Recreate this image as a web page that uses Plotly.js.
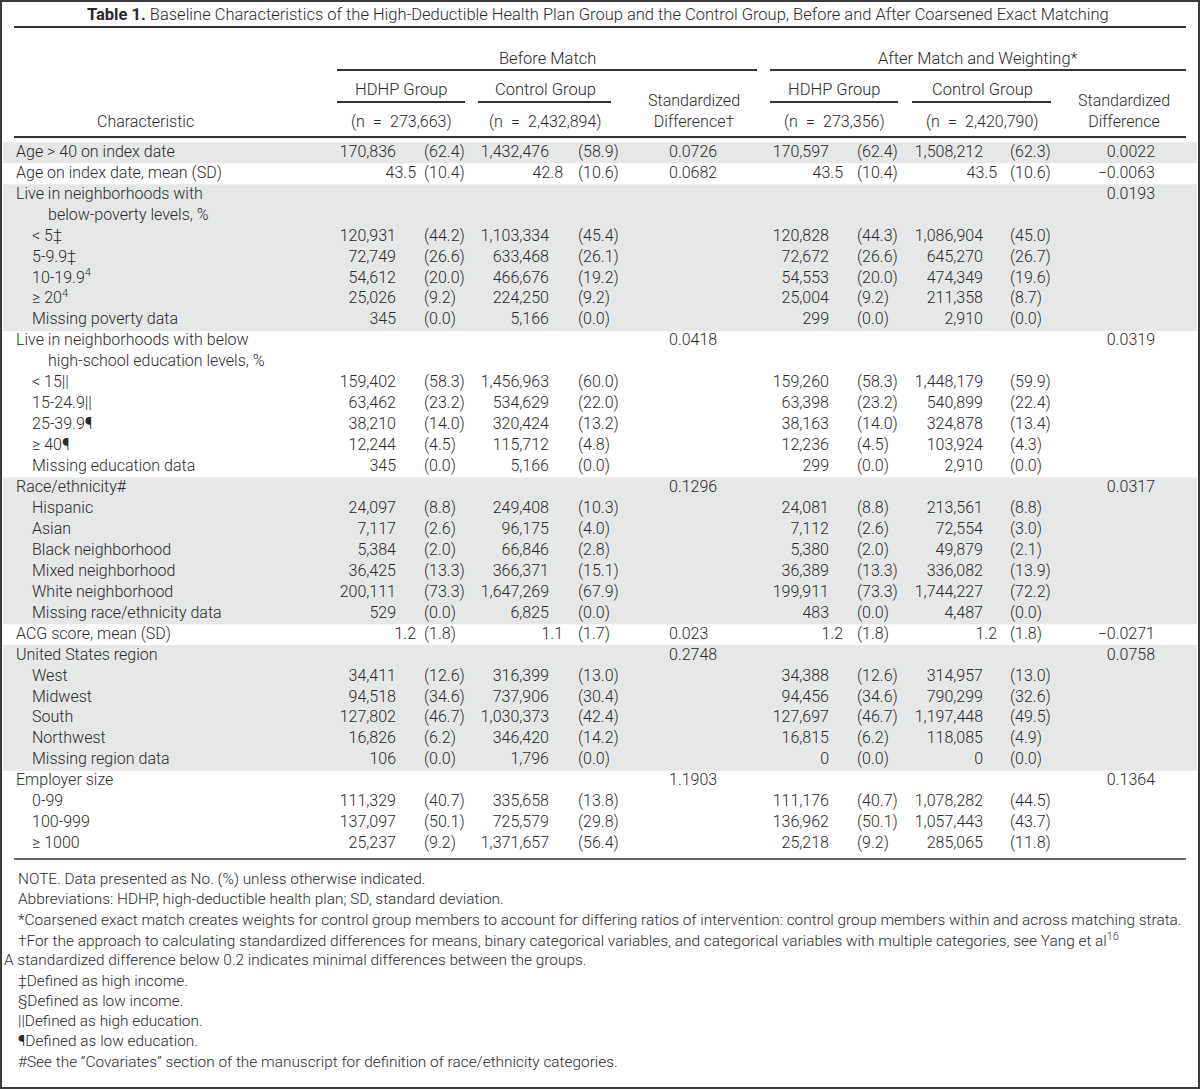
<!DOCTYPE html>
<html><head><meta charset="utf-8">
<script src="https://cdn.plot.ly/plotly-3.0.1.min.js"></script>
<style>html,body{margin:0;padding:0;background:#fff}#chart{width:1200px;height:1089px}</style>
</head><body><div id="chart"></div>
<script>
// ---------- DATA ----------
const characteristics = [
  "Age > 40 on index date",
  "Age on index date, mean (SD)",
  "Live in neighborhoods with",
  "below-poverty levels, %",
  "< 5‡",
  "5-9.9‡",
  "10-19.9<sup>4</sup>",
  "≥ 20<sup>4</sup>",
  "Missing poverty data",
  "Live in neighborhoods with below",
  "high-school education levels, %",
  "< 15||",
  "15-24.9||",
  "25-39.9¶",
  "≥ 40¶",
  "Missing education data",
  "Race/ethnicity#",
  "Hispanic",
  "Asian",
  "Black neighborhood",
  "Mixed neighborhood",
  "White neighborhood",
  "Missing race/ethnicity data",
  "ACG score, mean (SD)",
  "United States region",
  "West",
  "Midwest",
  "South",
  "Northwest",
  "Missing region data",
  "Employer size",
  "0-99",
  "100-999",
  "≥ 1000"
];
// 0 = heading, 1 = sub-category, 2 = wrapped continuation
const labelLevel = [0,0,0,2,1,1,1,1,1,0,2,1,1,1,1,1,0,1,1,1,1,1,1,0,0,1,1,1,1,1,0,1,1,1];
// rows reporting mean (SD) instead of No. (%)
const meanRows = [1, 23];

const hdhpBeforeN   = [170836,43.5,null,null,120931,72749,54612,25026,345,null,null,159402,63462,38210,12244,345,null,24097,7117,5384,36425,200111,529,1.2,null,34411,94518,127802,16826,106,null,111329,137097,25237];
const hdhpBeforePct = [62.4,10.4,null,null,44.2,26.6,20.0,9.2,0.0,null,null,58.3,23.2,14.0,4.5,0.0,null,8.8,2.6,2.0,13.3,73.3,0.0,1.8,null,12.6,34.6,46.7,6.2,0.0,null,40.7,50.1,9.2];
const ctrlBeforeN   = [1432476,42.8,null,null,1103334,633468,466676,224250,5166,null,null,1456963,534629,320424,115712,5166,null,249408,96175,66846,366371,1647269,6825,1.1,null,316399,737906,1030373,346420,1796,null,335658,725579,1371657];
const ctrlBeforePct = [58.9,10.6,null,null,45.4,26.1,19.2,9.2,0.0,null,null,60.0,22.0,13.2,4.8,0.0,null,10.3,4.0,2.8,15.1,67.9,0.0,1.7,null,13.0,30.4,42.4,14.2,0.0,null,13.8,29.8,56.4];
const stdDiffBefore = [0.0726,0.0682,null,null,null,null,null,null,null,0.0418,null,null,null,null,null,null,0.1296,null,null,null,null,null,null,0.023,0.2748,null,null,null,null,null,1.1903,null,null,null];

const hdhpAfterN    = [170597,43.5,null,null,120828,72672,54553,25004,299,null,null,159260,63398,38163,12236,299,null,24081,7112,5380,36389,199911,483,1.2,null,34388,94456,127697,16815,0,null,111176,136962,25218];
const hdhpAfterPct  = [62.4,10.4,null,null,44.3,26.6,20.0,9.2,0.0,null,null,58.3,23.2,14.0,4.5,0.0,null,8.8,2.6,2.0,13.3,73.3,0.0,1.8,null,12.6,34.6,46.7,6.2,0.0,null,40.7,50.1,9.2];
const ctrlAfterN    = [1508212,43.5,null,null,1086904,645270,474349,211358,2910,null,null,1448179,540899,324878,103924,2910,null,213561,72554,49879,336082,1744227,4487,1.2,null,314957,790299,1197448,118085,0,null,1078282,1057443,285065];
const ctrlAfterPct  = [62.3,10.6,null,null,45.0,26.7,19.6,8.7,0.0,null,null,59.9,22.4,13.4,4.3,0.0,null,8.8,3.0,2.1,13.9,72.2,0.0,1.8,null,13.0,32.6,49.5,4.9,0.0,null,44.5,43.7,11.8];
const stdDiffAfter  = [0.0022,-0.0063,0.0193,null,null,null,null,null,null,0.0319,null,null,null,null,null,null,0.0317,null,null,null,null,null,null,-0.0271,0.0758,null,null,null,null,null,0.1364,null,null,null];

const tableTitle = "<b>Table 1.</b> Baseline Characteristics of the High-Deductible Health Plan Group and the Control Group, Before and After Coarsened Exact Matching";
const periodLabels = ["Before Match", "After Match and Weighting*"];
const groupLabels = ["HDHP Group", "Control Group", "HDHP Group", "Control Group"];
const groupSizes = ["(n\u2002=\u2002273,663)", "(n\u2002=\u20022,432,894)", "(n\u2002=\u2002273,356)", "(n\u2002=\u20022,420,790)"];
const stdHeaders = ["Standardized<br>Difference†", "Standardized<br>Difference"];
const charHeader = "Characteristic";
const footnotes = [
  "NOTE. Data presented as No. (%) unless otherwise indicated.",
  "Abbreviations: HDHP, high-deductible health plan; SD, standard deviation.",
  "*Coarsened exact match creates weights for control group members to account for differing ratios of intervention: control group members within and across matching strata.",
  "†For the approach to calculating standardized differences for means, binary categorical variables, and categorical variables with multiple categories, see Yang et al<sup>16</sup>",
  "A standardized difference below 0.2 indicates minimal differences between the groups.",
  "‡Defined as high income.",
  "§Defined as low income.",
  "||Defined as high education.",
  "¶Defined as low education.",
  "#See the “Covariates” section of the manuscript for definition of race/ethnicity categories."
];
const footnoteOutdent = [false,false,false,false,true,false,false,false,false,false];
// shaded row groups (first, last row index)
const shadedGroups = [[0,0],[2,8],[16,22],[24,29]];

// ---------- LAYOUT CONSTANTS ----------
const W = 1200, H = 1089;
const ROW0 = 152.8, ROWH = 20.95;
const rowY = i => ROW0 + i * ROWH;
const FONT = "Roboto, 'Liberation Sans', Arial, sans-serif";
const TXT = "#2a2a2a";
const FS = 16;

const fmtN = v => v === null ? "" : v.toLocaleString("en-US");
const fmtP = v => v === null ? "" : "(" + v.toFixed(1) + ")";
const fmtM = v => v === null ? "" : v.toFixed(1);
const fmtS = v => v === null ? "" : String(v).replace("-", "−");

const traces = [];
function textTrace(xs, ys, texts, pos) {
  traces.push({
    type: "scatter", mode: "text", x: xs, y: ys, text: texts,
    textposition: pos, cliponaxis: false, hoverinfo: "skip", showlegend: false,
    textfont: {family: FONT, size: FS, color: TXT, weight: 300}
  });
}
const idx = characteristics.map((_, i) => i);

// label column
const labelX = [16, 32, 48];
textTrace(idx.map(i => labelX[labelLevel[i]]), idx.map(rowY), characteristics, "middle right");

// numeric columns: [countArr, pctArr, countRightX, meanRightX, pctLeftX]
const cols = [
  [hdhpBeforeN, hdhpBeforePct, 396, 416, 424],
  [ctrlBeforeN, ctrlBeforePct, 549, 563, 578],
  [hdhpAfterN, hdhpAfterPct, 829, 843, 857],
  [ctrlAfterN, ctrlAfterPct, 983, 997, 1010]
];
cols.forEach(([nArr, pArr, nx, mx, px]) => {
  const cnt = idx.filter(i => nArr[i] !== null && !meanRows.includes(i));
  textTrace(cnt.map(() => nx), cnt.map(rowY), cnt.map(i => fmtN(nArr[i])), "middle left");
  const mn = idx.filter(i => nArr[i] !== null && meanRows.includes(i));
  textTrace(mn.map(() => mx), mn.map(rowY), mn.map(i => fmtM(nArr[i])), "middle left");
  const pc = idx.filter(i => pArr[i] !== null);
  textTrace(pc.map(() => px), pc.map(rowY), pc.map(i => fmtP(pArr[i])), "middle right");
});
const sb = idx.filter(i => stdDiffBefore[i] !== null);
textTrace(sb.map(() => 669), sb.map(rowY), sb.map(i => fmtS(stdDiffBefore[i])), "middle right");
const sa = idx.filter(i => stdDiffAfter[i] !== null);
textTrace(sa.map(() => 1155), sa.map(rowY), sa.map(i => fmtS(stdDiffAfter[i])), "middle left");

// ---------- SHAPES ----------
const shapes = [];
shadedGroups.forEach(([a, b]) => {
  shapes.push({type: "rect", xref: "x", yref: "y", x0: 3, x1: 1197,
    y0: rowY(a) - ROWH / 2, y1: rowY(b) + ROWH / 2,
    fillcolor: "#e6e7e7", line: {width: 0}, layer: "below"});
});
function hline(x0, x1, y, w, c) {
  shapes.push({type: "line", xref: "x", yref: "y", x0, x1, y0: y, y1: y, line: {color: c, width: w}});
}
hline(14, 1186, 27, 2, "#333");
hline(337, 757, 70, 2, "#333");
hline(770, 1186, 70, 2, "#333");
hline(337, 465, 102, 2, "#333");
hline(478, 611, 102, 2, "#333");
hline(770, 898, 102, 2, "#333");
hline(912, 1051, 102, 2, "#333");
hline(14, 1186, 137, 2, "#333");
hline(14, 1186, 859, 2, "#666");
shapes.push({type: "rect", xref: "x", yref: "y", x0: 1, x1: 1199, y0: 1, y1: 1088,
  line: {color: "#3a3a3a", width: 2}, fillcolor: "rgba(0,0,0,0)"});

// ---------- ANNOTATIONS (headers, notes) ----------
const ann = [];
function label(x, y, text, xanchor, size) {
  ann.push({xref: "x", yref: "y", x, y, text, xanchor, yanchor: "middle", showarrow: false,
    align: xanchor === "center" ? "center" : "left",
    font: {family: FONT, size: size || FS, color: TXT, weight: 300}});
}
label(598, 14, tableTitle, "center", 16.5);
label(547, 58, periodLabels[0], "center", 16.5);
label(978, 58, periodLabels[1], "center", 16.5);
const groupCenters = [401, 545, 834, 982];
groupLabels.forEach((g, k) => label(groupCenters[k], 89, g, "center", 16.5));
groupSizes.forEach((g, k) => label(groupCenters[k], 121, g, "center", 16));
label(694, 111, stdHeaders[0], "center", 16);
label(1124, 111, stdHeaders[1], "center", 16);
label(145, 121, charHeader, "center", 16);
footnotes.forEach((t, k) => label(footnoteOutdent[k] ? 2 : 16, 879 + k * 20.3, t, "left", 15.4));

const layout = {
  width: W, height: H, margin: {l: 0, r: 0, t: 0, b: 0},
  paper_bgcolor: "#fff", plot_bgcolor: "#fff",
  xaxis: {range: [0, W], visible: false, fixedrange: true},
  yaxis: {range: [H, 0], visible: false, fixedrange: true},
  shapes, annotations: ann, showlegend: false
};
Plotly.newPlot("chart", traces, layout, {staticPlot: true, displayModeBar: false});
</script></body></html>
